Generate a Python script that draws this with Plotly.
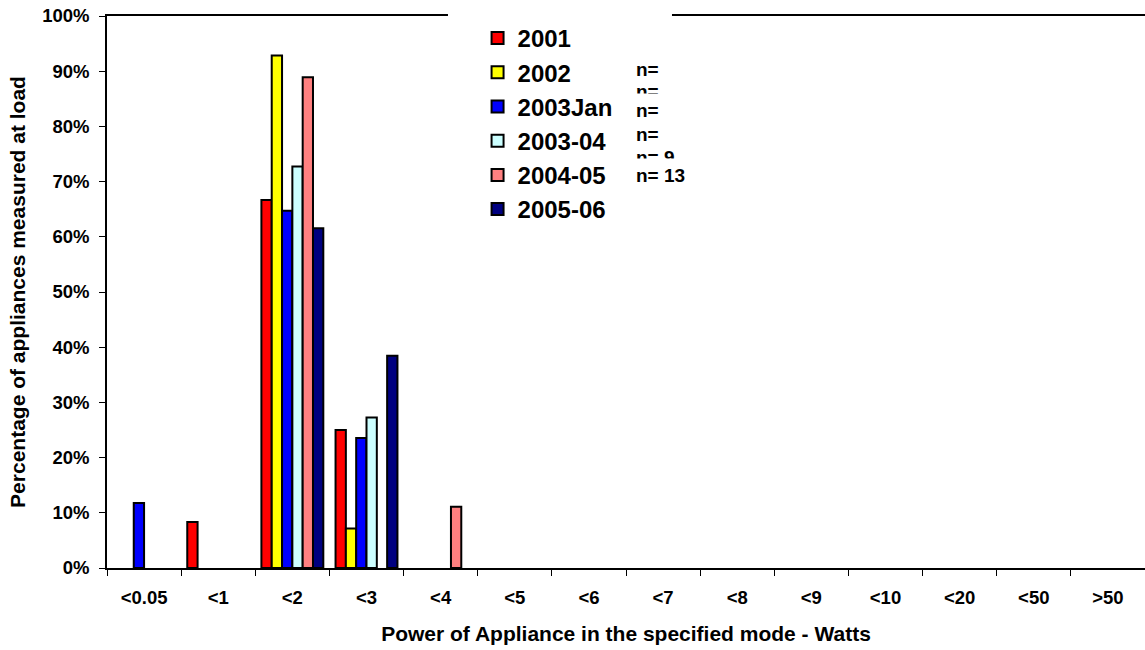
import plotly.graph_objects as go

# Power bins (x categories)
categories = ["<0.05", "<1", "<2", "<3", "<4", "<5", "<6", "<7",
              "<8", "<9", "<10", "<20", "<50", ">50"]

# Share of appliances in each power bin, per survey
y2001 = [0, 0.0833, 0.6667, 0.25, 0, 0, 0, 0, 0, 0, 0, 0, 0, 0]
y2002 = [0, 0, 0.9286, 0.0714, 0, 0, 0, 0, 0, 0, 0, 0, 0, 0]
y2003jan = [0.1176, 0, 0.6471, 0.2353, 0, 0, 0, 0, 0, 0, 0, 0, 0, 0]
y2003_04 = [0, 0, 0.7273, 0.2727, 0, 0, 0, 0, 0, 0, 0, 0, 0, 0]
y2004_05 = [0, 0, 0.8889, 0, 0.1111, 0, 0, 0, 0, 0, 0, 0, 0, 0]
y2005_06 = [0, 0, 0.6154, 0.3846, 0, 0, 0, 0, 0, 0, 0, 0, 0, 0]

series_names = ["2001", "2002", "2003Jan", "2003-04", "2004-05", "2005-06"]
series_values = [y2001, y2002, y2003jan, y2003_04, y2004_05, y2005_06]
series_colors = ["#FF0000", "#FFFF00", "#0000FF", "#CCFFFF", "#FF8080", "#000080"]

# Sample-size notes beside the legend (partly hidden in the original layout)
n_labels = ["n=", "n=", "n=", "n=", "n= 9", "n= 13"]
n_x = [636, 636, 636, 636, 636, 636]
n_y = [71, 93, 112, 136, 159, 177]

FONT = "Arial, Liberation Sans, sans-serif"

fig = go.Figure()
for name, vals, col in zip(series_names, series_values, series_colors):
    # empty bins get no bar at all
    fig.add_trace(go.Bar(
        x=categories, y=[v if v else None for v in vals], name=name,
        marker=dict(color=col, line=dict(color="black", width=2)),
    ))

# Note text on a pixel-scaled overlay axis pair
fig.add_trace(go.Scatter(
    x=n_x, y=n_y, text=n_labels, mode="text", textposition="middle right",
    textfont=dict(family=FONT, size=19, color="black", weight=700),
    xaxis="x2", yaxis="y2", showlegend=False, hoverinfo="skip",
))

fig.update_layout(
    width=1145, height=650,
    margin=dict(l=107, r=0, t=16, b=82),
    paper_bgcolor="white", plot_bgcolor="white",
    barmode="group", bargap=0.165, bargroupgap=0,
    font=dict(family=FONT, color="black"),
    showlegend=True,
    legend=dict(
        x=0.357, y=1.0, xanchor="left", yanchor="top",
        bgcolor="rgba(0,0,0,0)", borderwidth=0,
        font=dict(family=FONT, size=24, color="black", weight=700),
        tracegroupgap=0,
    ),
    xaxis=dict(
        type="category", showline=True, linecolor="black", linewidth=1.5,
        mirror=True, ticks="outside", tickson="boundaries", ticklen=6,
        tickcolor="black", showgrid=False, ticklabelstandoff=12,
        tickfont=dict(family=FONT, size=18.5, color="black", weight=700),
        title=dict(text="Power of Appliance in the specified mode - Watts",
                   font=dict(family=FONT, size=21, color="black", weight=700),
                   standoff=19),
    ),
    yaxis=dict(
        range=[0, 1], dtick=0.1, tickformat=".0%", showline=True,
        linecolor="black", linewidth=1.5, ticks="outside", ticklen=6,
        tickcolor="black", showgrid=False, zeroline=False, ticklabelstandoff=6,
        tickfont=dict(family=FONT, size=18.5, color="black", weight=700),
        title=dict(text="Percentage of appliances measured at load",
                   font=dict(family=FONT, size=21, color="black", weight=700),
                   standoff=11),
    ),
    xaxis2=dict(overlaying="x", range=[107, 1145], visible=False, fixedrange=True),
    yaxis2=dict(overlaying="y", range=[568, 16], visible=False, fixedrange=True),
    shapes=[
        # legend box hides part of the top frame
        dict(type="rect", xref="paper", yref="paper", x0=0.3285, x1=0.5443,
             y0=0.99, y1=1.012, fillcolor="white", line=dict(width=0), layer="above"),
        # partial masks over the note text
        dict(type="rect", xref="x2", yref="y2", x0=632, x1=715, y0=93.5, y1=104,
             fillcolor="white", line=dict(width=0), layer="above"),
        dict(type="rect", xref="x2", yref="y2", x0=632, x1=715, y0=158.5, y1=167,
             fillcolor="white", line=dict(width=0), layer="above"),
        dict(type="rect", xref="x2", yref="y2", x0=632, x1=715, y0=182, y1=192,
             fillcolor="white", line=dict(width=0), layer="above"),
    ],
)

fig.write_html("out.html")
